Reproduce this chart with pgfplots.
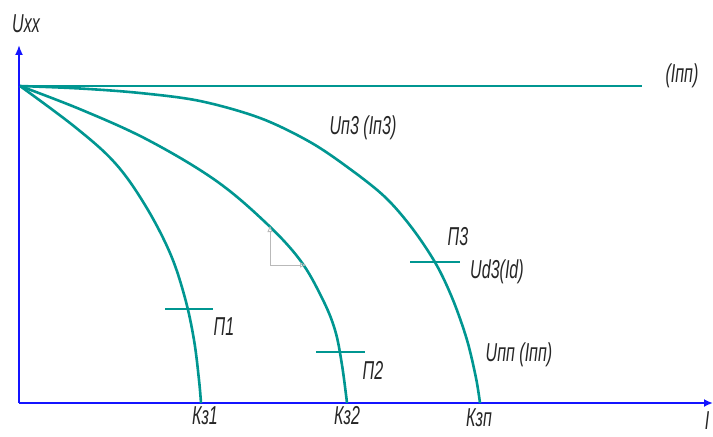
\documentclass[border=0pt]{standalone}
\usepackage{pgfplots}
\pgfplotsset{compat=1.18}
\usetikzlibrary{arrows.meta}
\usepackage{fontspec}
\setmainfont{Liberation Sans}
\newfontfamily\gost[FakeStretch=0.62]{Liberation Sans}
\definecolor{curve}{RGB}{0,150,145}
\definecolor{axisblue}{RGB}{20,20,255}
\tikzset{lbl/.style={font=\gost\itshape\fontsize{26}{28}\selectfont, text=black!85, inner sep=0pt}}
\pgfplotsset{char/.style={color=curve, line width=2.6bp, no markers, solid}}

\begin{document}
\begin{tikzpicture}
\begin{axis}[
  width=713bp, height=437bp, scale only axis,
  xmin=0, xmax=713, ymin=0, ymax=437, y dir=reverse,
  hide axis, clip=false,
]
% coordinate axes
\draw[axisblue, line width=1.8bp, -{Latex[length=9bp,width=8bp]}] (19,403) -- (713,403);
\draw[axisblue, line width=1.8bp, -{Latex[length=10bp,width=8bp]}] (19,403) -- (19,45);

% no-load level
\addplot[char] coordinates {(20,86) (642,86)};

% characteristic 1
\addplot[char, smooth, tension=0.6] coordinates {
 (20,86) (75,127) (115,163) (145,205) (170,253) (185,298) (194,340) (199,380) (201,403)};
% characteristic 2
\addplot[char, smooth, tension=0.6] coordinates {
 (20,86) (82,110) (148,140) (215,180) (265,222) (300,260) (322,298) (335,330) (342,365) (347,403)};
% characteristic 3
\addplot[char, smooth, tension=0.55] coordinates {
 (20,86) (80,88.5) (140,93) (200,101) (260,118) (310,142) (350,169) (385,197) (412,228) (436,264) (453,300) (467,340) (476,378) (480,403)};

% operating points
\addplot[char] coordinates {(165,309) (213,309)};
\addplot[char] coordinates {(316,352) (365,352)};
\addplot[char] coordinates {(410,262) (460,262)};

% small local frame
\draw[gray!55, line width=0.8bp, -{Triangle[open,length=6bp,width=5bp]}] (270,265) -- (270,226);
\draw[gray!55, line width=0.8bp, -{Triangle[open,length=6bp,width=5bp]}] (270,265) -- (306,265);

% labels
\node[lbl] at (26,24) {Uxx};
\node[lbl] at (682,76) {(Iпп)};
\node[lbl] at (363,128) {Uп3 (Iп3)};
\node[lbl] at (458,237) {П3};
\node[lbl] at (497,272) {Ud3(Id)};
\node[lbl] at (224,327) {П1};
\node[lbl] at (373,370) {П2};
\node[lbl] at (519,355) {Uпп (Iпп)};
\node[lbl] at (205,416) {Кз1};
\node[lbl] at (347,416) {Кз2};
\node[lbl] at (479,418) {Кзп};
\node[lbl] at (707,421) {I};
\end{axis}
\pgfresetboundingbox
\path (current axis.south west) rectangle (current axis.north east);
\end{tikzpicture}
\end{document}
